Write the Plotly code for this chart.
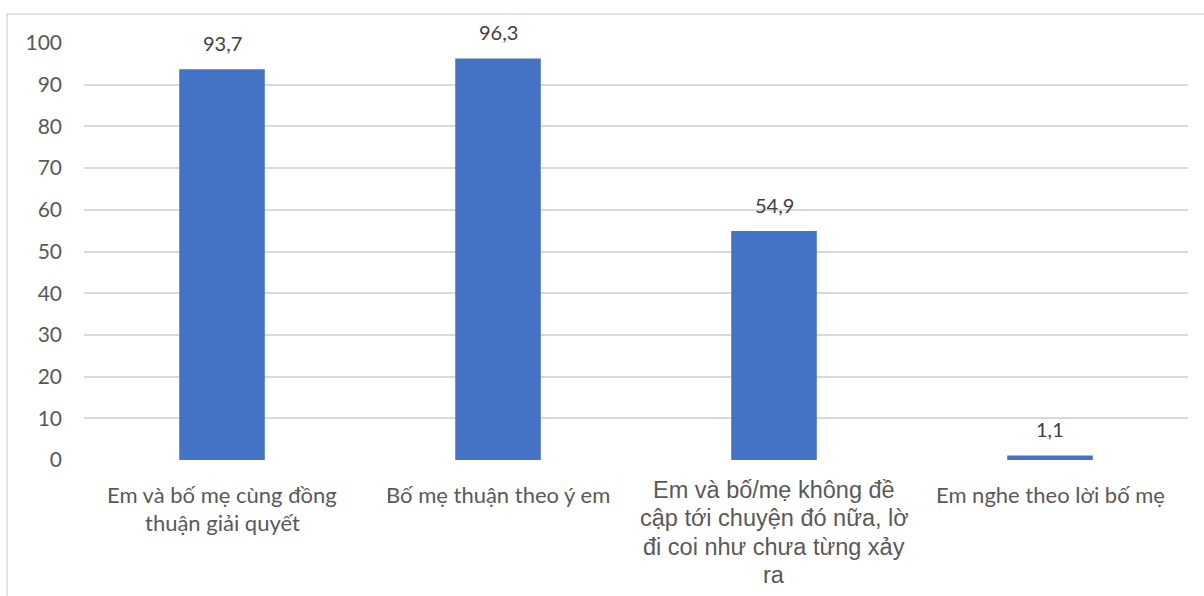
import plotly.graph_objects as go

# Category labels, split into the lines in which they are printed
categories = [
    "Em và bố mẹ cùng đồng thuận giải quyết",
    "Bố mẹ thuận theo ý em",
    "Em và bố/mẹ không đề cập tới chuyện đó nữa, lờ đi coi như chưa từng xảy ra",
    "Em nghe theo lời bố mẹ",
]
label_lines = [
    ["Em và bố mẹ cùng đồng", "thuận giải quyết"],
    ["Bố mẹ thuận theo ý em"],
    ["Em và bố/mẹ không đề", "cập tới chuyện đó nữa, lờ", "đi coi như chưa từng xảy", "ra"],
    ["Em nghe theo lời bố mẹ"],
]
values = [93.7, 96.3, 54.9, 1.1]
y_ticks = [0, 10, 20, 30, 40, 50, 60, 70, 80, 90, 100]

BAR = "#4472C4"
GRID = "#D9D9D9"
TEXT = "#595959"
MAIN_FONT = "Lato"

fig = go.Figure(
    go.Bar(
        x=categories,
        y=values,
        marker=dict(color=BAR, line=dict(width=0)),
        hoverinfo="skip",
    )
)

annotations = []
# value labels above each bar (comma as decimal separator)
for cat, v in zip(categories, values):
    annotations.append(dict(
        x=cat, y=v, xref="x", yref="y",
        text=f"{v:.1f}".replace(".", ","),
        showarrow=False, yanchor="bottom", yshift=12,
        font=dict(family=MAIN_FONT, size=20, color="#404040"),
    ))

# category labels under the axis, one annotation per printed line
for i, (cat, lines) in enumerate(zip(categories, label_lines)):
    if i == 2:
        fam, size, step, start = "Liberation Sans", 23.5, 28.3, 15
    else:
        fam, size, step, start = MAIN_FONT, 22, 28, 19
    for j, line in enumerate(lines):
        annotations.append(dict(
            x=cat, y=0, xref="x", yref="paper",
            text=line, showarrow=False, yanchor="top",
            yshift=-(start + j * step),
            font=dict(family=fam, size=size, color=TEXT),
        ))

fig.update_layout(
    width=1204, height=596,
    margin=dict(l=84, r=16, t=43, b=136),
    paper_bgcolor="white", plot_bgcolor="white",
    bargap=0.69,
    showlegend=False,
    annotations=annotations,
    xaxis=dict(showticklabels=False, showgrid=False, zeroline=False,
               showline=False, ticks=""),
    yaxis=dict(range=[0, 100], tickvals=y_ticks, showgrid=True,
               gridcolor=GRID, gridwidth=1.5, zeroline=False,
               showline=False, ticks="", ticklabelstandoff=21,
               tickfont=dict(family=MAIN_FONT, size=21, color=TEXT)),
    font=dict(family=MAIN_FONT, color=TEXT),
    shapes=[dict(
        type="rect", xref="paper", yref="paper",
        x0=(7 - 84) / 1104, x1=1.03, y0=-0.4, y1=(460 - 14) / 417,
        line=dict(color=GRID, width=1.5), fillcolor="rgba(0,0,0,0)",
        layer="below",
    )],
)

fig.write_html("out.html")
